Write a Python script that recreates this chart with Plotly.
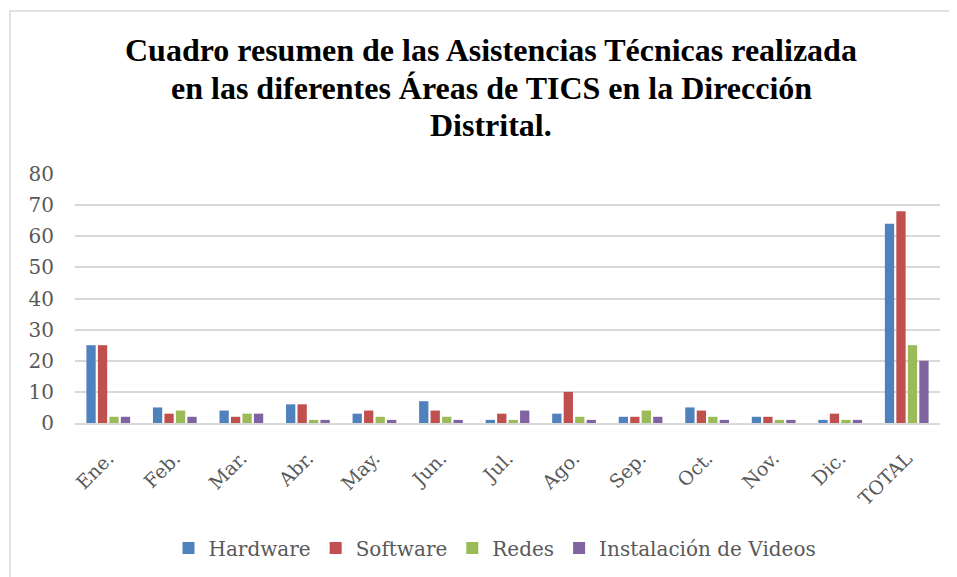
import plotly.graph_objects as go

categories = ["Ene.", "Feb.", "Mar.", "Abr.", "May.", "Jun.", "Jul.", "Ago.", "Sep.", "Oct.", "Nov.", "Dic.", "TOTAL"]
hardware = [25, 5, 4, 6, 3, 7, 1, 3, 2, 5, 2, 1, 64]
software = [25, 3, 2, 6, 4, 4, 3, 10, 2, 4, 2, 3, 68]
redes = [2, 4, 3, 1, 2, 2, 1, 2, 4, 2, 1, 1, 25]
videos = [2, 2, 3, 1, 1, 1, 4, 1, 2, 1, 1, 1, 20]
y_ticks = [0, 10, 20, 30, 40, 50, 60, 70, 80]
title_lines = ["Cuadro resumen de las Asistencias Técnicas realizada",
               "en las diferentes Áreas de TICS en la Dirección",
               "Distrital."]

series = [
    ("Hardware", hardware, "#4F81BD"),
    ("Software", software, "#C0504D"),
    ("Redes", redes, "#9BBB59"),
    ("Instalación de Videos", videos, "#8064A2"),
]

fig = go.Figure()
for name, vals, color in series:
    fig.add_trace(go.Bar(x=categories, y=vals, name=name, marker_color=color,
                         marker_line_width=0))

W, H = 957, 577
L, T, PW, PH = 67, 166, 865, 249
R = W - L - PW
B = H - T - PH

def px_x(p):
    return (p - L) / PW

def px_y(p):
    return (T + PH - p) / PH

serif = "DejaVu Serif"
annotations = []
for line, yc in zip(title_lines, [42, 80, 117]):
    annotations.append(dict(
        text="<b>" + line + "</b>", xref="paper", yref="paper",
        x=px_x(483), y=px_y(yc), xanchor="center", yanchor="middle",
        showarrow=False, font=dict(size=32, color="black", family="Liberation Serif")))

fig.update_layout(
    width=W, height=H,
    margin=dict(l=L, r=R, t=T, b=B),
    paper_bgcolor="white", plot_bgcolor="white",
    barmode="group", bargap=0.31, bargroupgap=0.19,
    font=dict(family=serif, color="#595959"),
    showlegend=True,
    legend=dict(orientation="h", x=px_x(487), xanchor="center", y=px_y(540), yanchor="middle",
                font=dict(size=20, color="#595959", family=serif),
                traceorder="normal"),
    xaxis=dict(tickangle=-45, tickfont=dict(size=19, color="#595959"),
               showline=True, linecolor="#D9D9D9", linewidth=1.5, ticks="",
               ticklabelstandoff=15),
    yaxis=dict(range=[0, 80], tickvals=y_ticks, tickfont=dict(size=20, color="#595959"),
               showgrid=True, gridcolor="#D9D9D9", gridwidth=1.5, zeroline=False,
               showline=False, ticks="", ticklabelstandoff=20),
    annotations=annotations,
    shapes=[dict(type="rect", xref="paper", yref="paper",
                 x0=px_x(2), x1=px_x(947), y0=px_y(600), y1=px_y(3),
                 line=dict(color="#D9D9D9", width=1.5), fillcolor="rgba(0,0,0,0)", layer="below")],
)

fig.write_html("out.html")
